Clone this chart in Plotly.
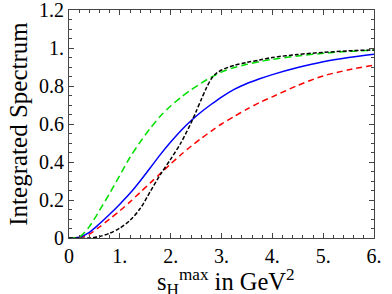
import plotly.graph_objects as go

# data
x_green = [0, 0.2, 0.4, 0.6, 0.8, 1.0, 1.2, 1.4, 1.6, 1.8, 2.0, 2.2, 2.4, 2.6, 2.8, 3.0, 3.25, 3.5, 3.75, 4.0, 4.5, 5.0, 5.5, 6.0]
y_green = [0, 0.005, 0.06, 0.145, 0.235, 0.33, 0.425, 0.505, 0.578, 0.642, 0.695, 0.74, 0.78, 0.815, 0.847, 0.873, 0.897, 0.914, 0.928, 0.94, 0.958, 0.972, 0.982, 0.988]

x_black = [0, 0.4, 0.6, 0.8, 1.0, 1.2, 1.4, 1.6, 1.8, 2.0, 2.2, 2.4, 2.5, 2.6, 2.7, 2.8, 2.9, 3.0, 3.25, 3.5, 3.75, 4.0, 4.5, 5.0, 5.5, 6.0]
y_black = [0, 0.0, 0.008, 0.025, 0.052, 0.093, 0.155, 0.245, 0.335, 0.415, 0.5, 0.605, 0.665, 0.728, 0.788, 0.838, 0.867, 0.884, 0.909, 0.924, 0.937, 0.95, 0.966, 0.977, 0.985, 0.99]

x_blue = [0, 0.2, 0.4, 0.6, 0.8, 1.0, 1.2, 1.4, 1.6, 1.8, 2.0, 2.2, 2.4, 2.6, 2.8, 3.0, 3.25, 3.5, 3.75, 4.0, 4.5, 5.0, 5.5, 6.0]
y_blue = [0, 0.004, 0.03, 0.075, 0.125, 0.178, 0.235, 0.3, 0.37, 0.44, 0.505, 0.565, 0.617, 0.663, 0.704, 0.742, 0.782, 0.813, 0.838, 0.86, 0.897, 0.928, 0.95, 0.967]

x_red = [0, 0.2, 0.4, 0.6, 0.8, 1.0, 1.2, 1.4, 1.6, 1.8, 2.0, 2.2, 2.4, 2.6, 2.8, 3.0, 3.25, 3.5, 3.75, 4.0, 4.5, 5.0, 5.5, 6.0]
y_red = [0, 0.002, 0.02, 0.058, 0.1, 0.143, 0.19, 0.24, 0.29, 0.34, 0.39, 0.438, 0.483, 0.524, 0.563, 0.6, 0.64, 0.678, 0.713, 0.743, 0.803, 0.853, 0.885, 0.91]

x_tickvals = [0, 1, 2, 3, 4, 5, 6]
x_ticktext = ["0", "1.", "2.", "3.", "4.", "5.", "6."]
y_tickvals = [0, 0.2, 0.4, 0.6, 0.8, 1.0, 1.2]
y_ticktext = ["0", "0.2", "0.4", "0.6", "0.8", "1.", "1.2"]
x_title = "s<sub>H</sub><sup>max</sup> in GeV<sup>2</sup>"
y_title = "Integrated Spectrum"

fig = go.Figure()
fig.add_trace(go.Scatter(x=x_red, y=y_red, mode="lines", line=dict(color="#ff0000", width=1.5, dash="6px,4px", shape="spline", smoothing=0.8)))
fig.add_trace(go.Scatter(x=x_blue, y=y_blue, mode="lines", line=dict(color="#0000ff", width=1.5, shape="spline", smoothing=0.8)))
fig.add_trace(go.Scatter(x=x_green, y=y_green, mode="lines", line=dict(color="#00e000", width=1.5, dash="7px,4px", shape="spline", smoothing=0.8)))
fig.add_trace(go.Scatter(x=x_black, y=y_black, mode="lines", line=dict(color="#000000", width=1.5, dash="4px,2px", shape="spline", smoothing=0.8)))

font = "Liberation Serif"
axis_common = dict(
    showgrid=False, zeroline=False, showline=True, linecolor="#444", linewidth=1,
    mirror="allticks", ticks="inside", ticklen=5, tickcolor="#444",
    tickfont=dict(family=font, size=20, color="black"), automargin=False,
    ticklabeloverflow="allow",
)
fig.update_xaxes(range=[0, 6], tickvals=x_tickvals, ticktext=x_ticktext,
                 minor=dict(dtick=0.2, ticklen=3, ticks="inside", tickcolor="#444"),
                 **axis_common)
fig.update_yaxes(range=[0, 1.2], tickvals=y_tickvals, ticktext=y_ticktext,
                 minor=dict(dtick=0.05, ticklen=3, ticks="inside", tickcolor="#444"),
                 title=dict(text=y_title, font=dict(family=font, size=25, color="black"), standoff=4),
                 **axis_common)
fig.add_annotation(text=x_title, xref="paper", yref="paper", x=0.515, y=0,
                   xanchor="center", yanchor="top", yshift=-25, showarrow=False,
                   font=dict(family=font, size=24.5, color="black"))
fig.update_layout(
    width=392, height=294, showlegend=False,
    margin=dict(l=69, r=18, t=10, b=56),
    plot_bgcolor="white", paper_bgcolor="white",
)
fig.write_html("out.html", config={"displayModeBar": False},
               post_script="document.body.style.margin='0';")
